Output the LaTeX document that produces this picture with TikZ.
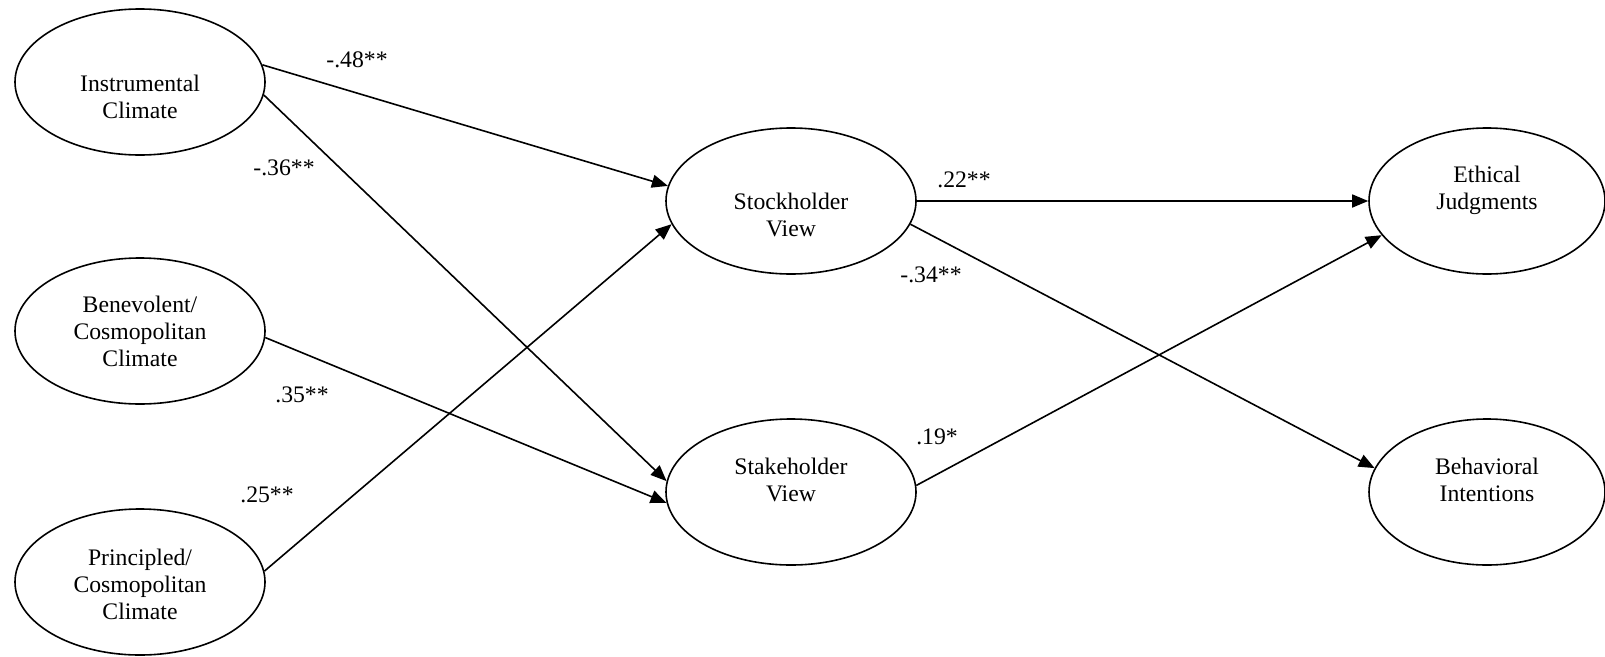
\documentclass[tikz,border=0pt]{standalone}
\usepackage{fontspec}
\setmainfont{Liberation Serif}
\usetikzlibrary{shapes.geometric,arrows.meta}
\begin{document}
\begin{tikzpicture}[x=1pt,y=-1pt,
  every node/.style={font=\fontsize{23.7}{27}\selectfont},
  var/.style={ellipse,draw,line width=1.6pt,minimum width=250pt,minimum height=146pt,inner sep=0pt},
  vtext/.style={align=center,inner sep=0pt},
  path/.style={line width=1.6pt,-{Triangle[length=16pt,width=13pt]}},
  coef/.style={inner sep=0pt}]
\useasboundingbox (0,0) rectangle (1605,656);
% variables
\node[var] (instr) at (140,82) {};
\node[var] (benev) at (140,331) {};
\node[var] (princ) at (140,582) {};
\node[var] (stock) at (791,201) {};
\node[var] (stake) at (791,492) {};
\node[var,minimum width=236pt] (ethic) at (1487,201) {};
\node[var,minimum width=236pt] (behav) at (1487,492) {};
% variable names
\node[vtext] (instr-t) at (140,97) {Instrumental\\Climate};
\node[vtext] (benev-t) at (140,331) {Benevolent/\\Cosmopolitan\\Climate};
\node[vtext] (princ-t) at (140,584) {Principled/\\Cosmopolitan\\Climate};
\node[vtext] (stock-t) at (791,215) {Stockholder\\View};
\node[vtext] (stake-t) at (791,480) {Stakeholder\\View};
\node[vtext] (ethic-t) at (1487,190) {Ethical\\Judgments};
\node[vtext] (behav-t) at (1487,480) {Behavioral\\Intentions};
% paths
\draw[path] (instr.8) -- (stock.173);
\draw[path] (instr.-6) -- (stake.175);
\draw[path] (benev.-3) -- (stake.185);
\draw[path] (princ.5) -- (stock.191);
\draw[path] (stock.east) -- (ethic.west);
\draw[path] (stock.-11) -- (behav.168);
\draw[path] (stake.3) -- (ethic.198);
% coefficients
\node[coef] (c1) at (357,60) {-.48**};
\node[coef] (c2) at (284,168) {-.36**};
\node[coef] (c3) at (302,395) {.35**};
\node[coef] (c4) at (267,495) {.25**};
\node[coef] (c5) at (964,180) {.22**};
\node[coef] (c6) at (931,275) {-.34**};
\node[coef] (c7) at (937,437) {.19*};
\end{tikzpicture}
\end{document}
